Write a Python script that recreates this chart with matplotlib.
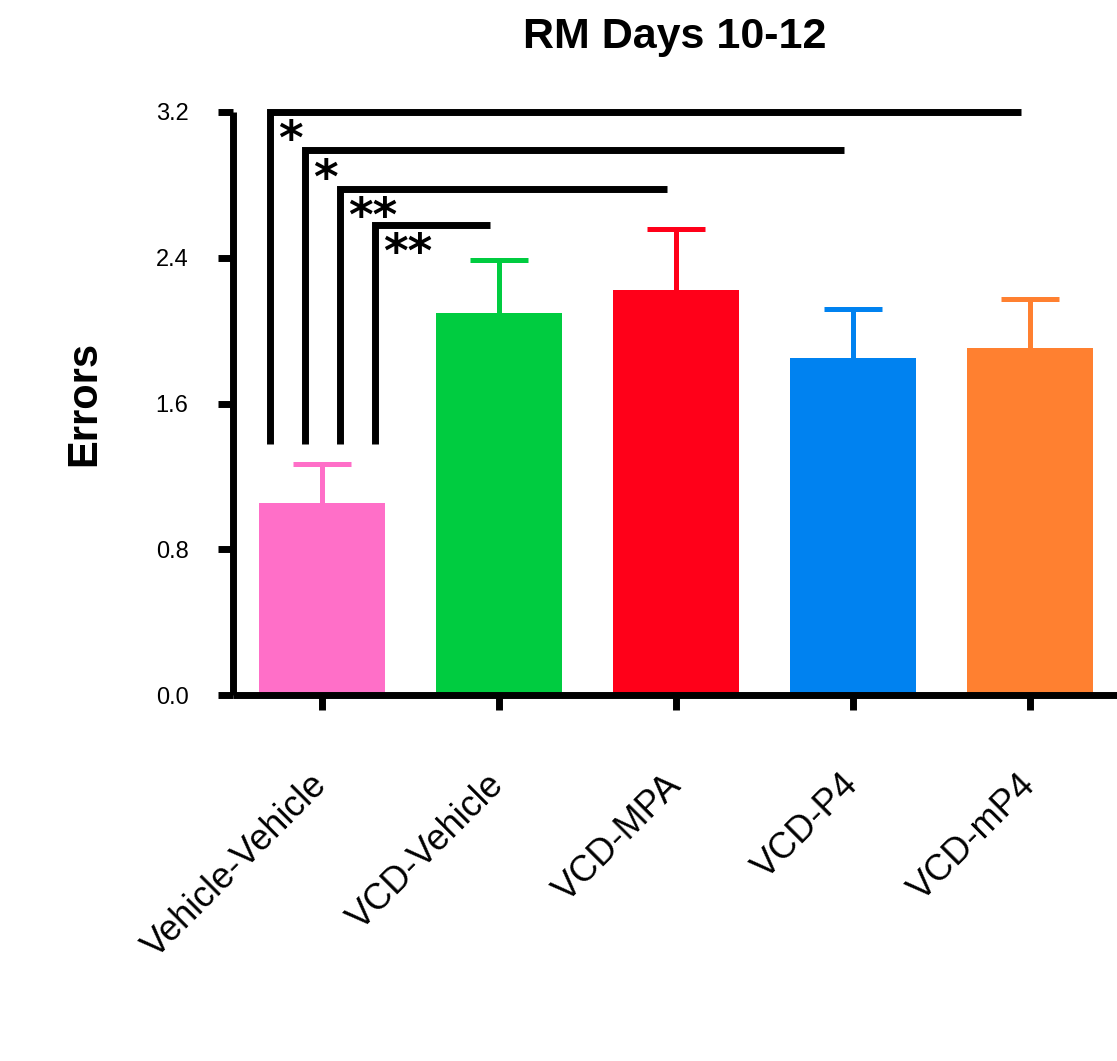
import matplotlib
matplotlib.use("Agg")
import matplotlib.pyplot as plt

# ---- data ----
groups = ["Vehicle-Vehicle", "VCD-Vehicle", "VCD-MPA", "VCD-P4", "VCD-mP4"]
means = [1.054, 2.097, 2.224, 1.851, 1.905]
sem = [0.216, 0.291, 0.333, 0.269, 0.268]
colors = ["#FF6FC8", "#00CC40", "#FF0019", "#0082F0", "#FF8030"]
yticks = [0.0, 0.8, 1.6, 2.4, 3.2]
ytick_labels = ["0.0", "0.8", "1.6", "2.4", "3.2"]

# significance comparisons: (from group, to group, level, label)
comp_from = [0, 0, 0, 0]
comp_to = [4, 3, 2, 1]
comp_level = [3.2, 2.99, 2.78, 2.58]
comp_label = ["*", "*", "**", "**"]
comp_bottom = 1.38

plt.rcParams['font.family'] = ['Liberation Sans', 'DejaVu Sans']

fig = plt.figure(figsize=(11.17, 10.61), dpi=100)
ax = fig.add_axes([233/1117, 1-695/1061, 1-233/1117, (695-112)/1061])

x = list(range(len(groups)))
ax.bar(x, means, width=0.71, color=colors, zorder=2)

cap_half = 0.165
tops = [m + s for m, s in zip(means, sem)]
ax.vlines(x, means, tops, colors=colors, linewidth=3.6, zorder=1)
ax.hlines(tops, [xi - cap_half for xi in x], [xi + cap_half for xi in x],
          colors=colors, linewidth=3.6, zorder=1)

# significance brackets
for i, (a, b, lev, lab) in enumerate(zip(comp_from, comp_to, comp_level, comp_label)):
    xv = a - 0.294 + 0.198 * i
    xe = b - 0.05
    ax.plot([xv, xv, xe], [comp_bottom, lev, lev], color="black", linewidth=5,
            solid_joinstyle="miter", solid_capstyle="butt", clip_on=False, zorder=3)
    ax.text(xv + 0.045, lev - 0.04, lab, ha="left", va="top", fontsize=34,
            family="DejaVu Sans", fontweight="bold", color="black", clip_on=False)

ax.set_xlim(-0.503, 4.49)
ax.set_ylim(0, 3.2)

for s in ["top", "right"]:
    ax.spines[s].set_visible(False)
for s in ["left", "bottom"]:
    ax.spines[s].set_linewidth(5)
    ax.spines[s].set_capstyle("butt")

ax.set_yticks(yticks)
ax.set_yticklabels(ytick_labels)
ax.tick_params(axis="y", length=11, width=5, pad=21, labelsize=17, direction="out")
ax.set_xticks(x)
ax.set_xticklabels(groups, rotation=45, ha="right", va="center",
                   rotation_mode="anchor", fontsize=26)
ax.tick_params(axis="x", length=11, width=5, pad=50, direction="out")

ax.set_ylabel("Errors", fontsize=30, fontweight="bold")
ax.yaxis.set_label_coords(-0.146, 0.5)

ax.set_title("RM Days 10-12", fontsize=31, fontweight="bold", pad=46)

fig.savefig("out.png", dpi=100)
